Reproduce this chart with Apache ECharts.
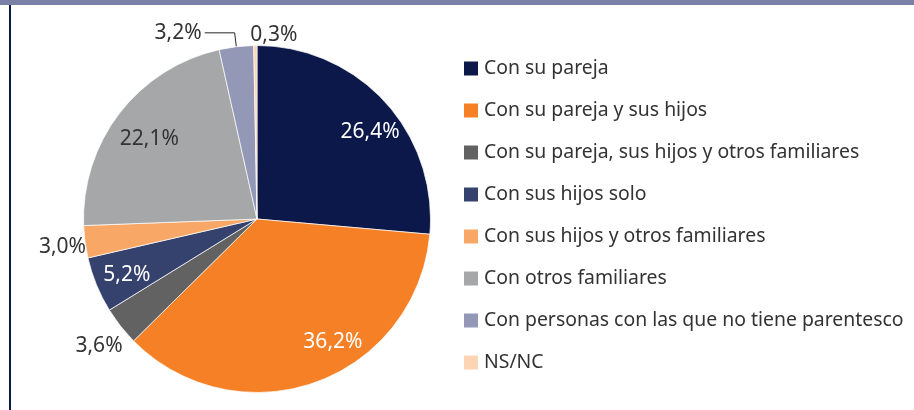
<!DOCTYPE html>
<html>
<head>
<meta charset="utf-8">
<script src="https://cdn.jsdelivr.net/npm/echarts@6/dist/echarts.min.js"></script>
<style>
html, body { margin: 0; padding: 0; background: #fff; }
#main { width: 914px; height: 410px; }
</style>
</head>
<body>
<div id="main"></div>
<script>
// datos del gráfico
var categories = [
	'Con su pareja',
	'Con su pareja y sus hijos',
	'Con su pareja, sus hijos y otros familiares',
	'Con sus hijos solo',
	'Con sus hijos y otros familiares',
	'Con otros familiares',
	'Con personas con las que no tiene parentesco',
	'NS/NC'
];
var values = [26.4, 36.2, 3.6, 5.2, 3.0, 22.1, 3.2, 0.3];

// estilos
var colors = ['#0b1849', '#f58025', '#626262', '#36426e', '#f8a766', '#a6a7a9', '#9298b6', '#fcd5b4'];
var insideLabel = [true, true, false, true, false, true, false, false];
var insideColor = ['#ffffff', '#ffffff', '#333', '#ffffff', '#333', '#333', '#333', '#333'];
// pequeños ajustes de las etiquetas (dx, dy)
var outerNudge = { 2: [5, 20], 4: [4, 5], 7: [45, -10] };
var innerNudge = { 0: [11, 7], 1: [29, -7], 5: [2, 5], 3: [-2, 3] };

var fontFamily = '"Noto Sans", "Open Sans", sans-serif';

function pct(p) {
	return p.value.toFixed(1).replace('.', ',') + '%';
}

var mainData = categories.map(function (name, i) {
	var withLine = (i === 6);
	return {
		name: name,
		value: values[i],
		itemStyle: { color: colors[i] },
		label: { show: !insideLabel[i] },
		labelLine: withLine ? { show: true, length: 14, length2: 30 } : { show: false, length: 0, length2: 0 }
	};
});

var labelData = categories.map(function (name, i) {
	return {
		name: name,
		value: values[i],
		label: { show: insideLabel[i], color: insideColor[i] }
	};
});

var myChart = echarts.init(document.getElementById('main'));
myChart.setOption({
	animation: false,
	textStyle: { fontFamily: fontFamily },
	graphic: [
		{ type: 'rect', shape: { x: 0, y: 0, width: 914, height: 5 }, style: { fill: '#7a80a6' }, silent: true },
		{ type: 'rect', shape: { x: 9, y: 5, width: 2, height: 405 }, style: { fill: '#0b1849' }, silent: true }
	],
	legend: {
		orient: 'vertical',
		left: 457,
		top: 54,
		itemWidth: 16,
		itemHeight: 16,
		itemGap: 23,
		icon: 'rect',
		data: categories,
		textStyle: { fontSize: 19.4, color: '#333', fontFamily: fontFamily }
	},
	series: [
		{
			name: 'main',
			type: 'pie',
			center: [257, 219],
			radius: [0, 173.5],
			avoidLabelOverlap: false,
			itemStyle: { borderColor: '#ffffff', borderWidth: 0.7 },
			label: {
				position: 'outside',
				formatter: pct,
				fontSize: 21,
				color: '#333',
				distanceToLabelLine: 3,
				fontFamily: fontFamily
			},
			labelLine: { lineStyle: { color: '#262626', width: 1 } },
			labelLayout: function (p) {
				var n = outerNudge[p.dataIndex];
				return n ? { dx: n[0], dy: n[1] } : {};
			},
			emphasis: { disabled: true },
			data: mainData
		},
		{
			// serie transparente que solo coloca las etiquetas interiores
			name: 'labels',
			type: 'pie',
			center: [257, 219],
			radius: [0, 271],
			silent: true,
			avoidLabelOverlap: false,
			itemStyle: { color: 'rgba(0,0,0,0)', borderWidth: 0 },
			label: {
				position: 'inside',
				formatter: pct,
				fontSize: 21,
				textBorderWidth: 0,
				fontFamily: fontFamily
			},
			labelLine: { show: false },
			labelLayout: function (p) {
				var n = innerNudge[p.dataIndex];
				return n ? { dx: n[0], dy: n[1] } : {};
			},
			emphasis: { disabled: true },
			tooltip: { show: false },
			data: labelData
		}
	]
});
</script>
</body>
</html>
